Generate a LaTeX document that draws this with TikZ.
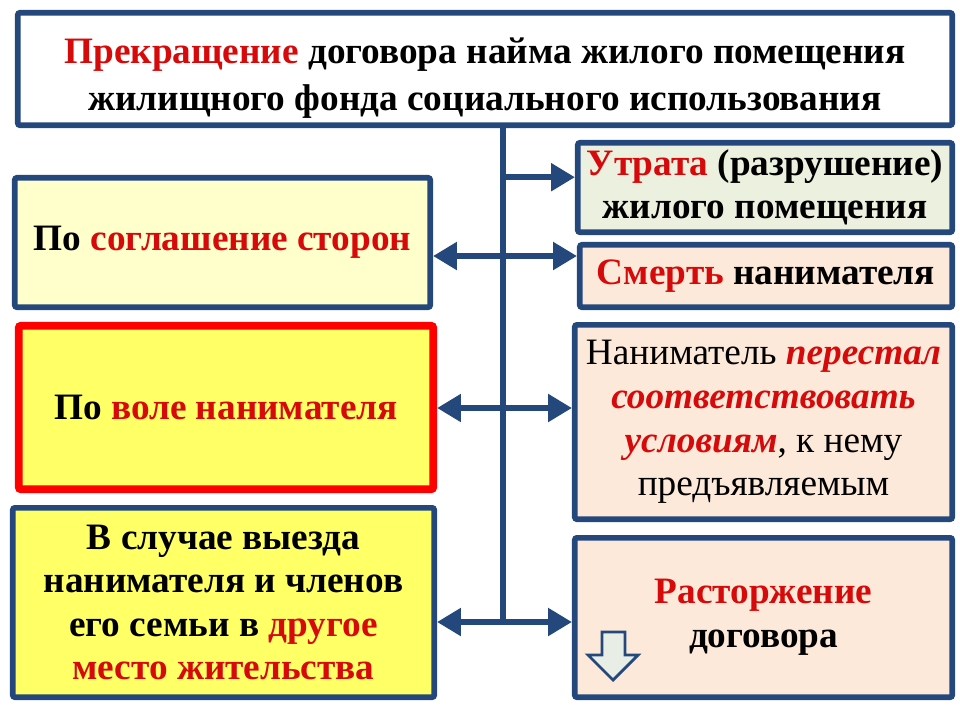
\documentclass[tikz,border=0pt]{standalone}
\usepackage{fontspec}
\setmainfont{Liberation Serif}
\usetikzlibrary{arrows.meta}

\definecolor{frameblue}{RGB}{37,72,124}
\definecolor{textred}{RGB}{214,10,10}
\definecolor{paleyellow}{RGB}{255,255,204}
\definecolor{brightyellow}{RGB}{255,255,102}
\definecolor{palegreen}{RGB}{235,241,222}
\definecolor{palepink}{RGB}{253,233,217}
\definecolor{arrowfill}{RGB}{232,238,230}
\newcommand{\hl}[1]{\textcolor{textred}{#1}}

\begin{document}
\begin{tikzpicture}[
    box/.style={draw=frameblue, line width=4pt, rounded corners=1.5pt, align=center,
                inner sep=0pt, font=\fontsize{26.5}{31}\selectfont\bfseries},
    spine/.style={frameblue, line width=4.6pt},
    link/.style={spine, -{Triangle[length=17pt,width=19pt]}},
    both/.style={spine, {Triangle[length=17pt,width=19pt]}-{Triangle[length=17pt,width=19pt]}},
]
    \useasboundingbox (0,0) rectangle (24,-18);

    % Define the points on the spine
    \coordinate (top) at (12.575,-3.2);
    \coordinate (J1) at (12.575,-4.43);
    \coordinate (J2) at (12.575,-6.4);
    \coordinate (J3) at (12.575,-10.2);
    \coordinate (J4) at (12.575,-15.55);

    % Title
    \node[box, fill=white, minimum width=23.36cm, minimum height=2.81cm, font=\fontsize{26.5}{33.5}\selectfont\bfseries] (title) at (12.125,-1.725)
        {\rule{0pt}{1.1cm}\hl{Прекращение} договора найма жилого помещения\\ жилищного фонда социального использования};

    % Left column
    \node[box, fill=paleyellow, minimum width=10.385cm, minimum height=3.235cm] (L1) at (5.5625,-6.0625)
        {По \hl{соглашение сторон}};
    \node[box, draw=red, line width=5.5pt, fill=brightyellow, minimum width=10.36cm, minimum height=4.085cm] (L2) at (5.65,-10.1875)
        {По \hl{воле нанимателя}};
    \node[box, fill=brightyellow, minimum width=10.535cm, minimum height=4.735cm] (L3) at (5.5875,-15.0625)
        {В случае выезда\\ нанимателя и членов\\ его семьи в \hl{другое}\\ \hl{место жительства}};

    % Right column
    \node[box, fill=palegreen, minimum width=9.36cm, minimum height=2.235cm] (R1) at (19.125,-4.6875)
        {\hl{Утрата} (разрушение)\\ жилого помещения};
    \node[box, fill=palepink, minimum width=9.31cm, minimum height=1.56cm] (R2) at (19.15,-6.9)
        {\hl{Смерть} нанимателя};
    \node[box, fill=palepink, minimum width=9.435cm, minimum height=4.86cm, font=\fontsize{26.5}{31}\selectfont] (R3) at (19.0875,-10.55)
        {Наниматель \hl{\bfseries\itshape перестал}\\ \hl{\bfseries\itshape соответствовать}\\ \hl{\bfseries\itshape условиям}, к нему\\ предъявляемым};
    \node[box, fill=palepink, minimum width=9.435cm, minimum height=3.985cm] (R4) at (19.0875,-15.4375)
        {\hl{Расторжение}\\ договора};

    % Draw the spine and the arrows
    \draw[spine] (title.south -| top) -- (J4);
    \draw[link] (J1) -- (J1 -| R1.west);
    \draw[both] (J2 -| L1.east) -- (J2 -| R2.west);
    \draw[both] (J3 -| L2.east) -- (J3 -| R3.west);
    \draw[both] (J4 -| L3.east) -- (J4 -| R4.west);

    % Hollow arrow in the last box
    \draw[frameblue, line width=2pt, fill=arrowfill, line join=miter]
        (15.05,-15.8) -- (15.625,-15.8) -- (15.625,-16.375) -- (15.95,-16.375)
        -- (15.325,-17) -- (14.7,-16.375) -- (15.05,-16.375) -- cycle;
\end{tikzpicture}
\end{document}
